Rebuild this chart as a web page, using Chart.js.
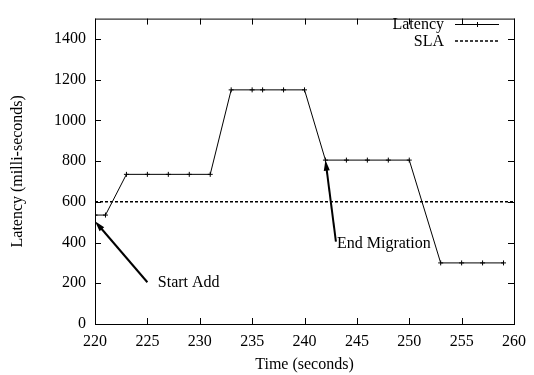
<!DOCTYPE html>
<html>
<head>
<meta charset="utf-8">
<script src="https://cdn.jsdelivr.net/npm/chart.js@4/dist/chart.umd.min.js"></script>
<style>
  html, body { margin: 0; padding: 0; background: #fff; }
  #wrap { width: 534px; height: 375px; }
</style>
</head>
<body>
<div id="wrap"><canvas id="latencyChart" width="534" height="375"></canvas></div>
<script>
/* =========================
   DATA
========================= */
const times = [220, 221, 223, 225, 227, 229, 231, 233, 235, 236, 238, 240, 242, 244, 246, 248, 250, 253, 255, 257, 259];
const latency = [535, 535, 735, 735, 735, 735, 735, 1150, 1150, 1150, 1150, 1150, 805, 805, 805, 805, 805, 300, 300, 300, 300];

const slaTimes = [220, 260];
const slaLatency = [600, 600];

const xTicks = [220, 225, 230, 235, 240, 245, 250, 255, 260];
const yTicks = [0, 200, 400, 600, 800, 1000, 1200, 1400];

// annotations: label text, label anchor, arrow tail -> head (data units)
const noteText = ["Start Add", "End Migration"];
const noteLabelX = [226, 243.1];
const noteLabelY = [200, 393];
const noteTailX = [225, 243];
const noteTailY = [205, 405];
const noteHeadX = [220, 242];
const noteHeadY = [505, 805];

const FONT = "16px 'Liberation Serif', 'Times New Roman', serif";

/* =========================
   FRAME + TICKS + LABELS
========================= */
const gnuplotFrame = {
  id: "gnuplotFrame",
  afterDatasetsDraw(chart) {
    const { ctx, chartArea: a, scales: { x, y } } = chart;
    ctx.save();
    ctx.strokeStyle = "#000";
    ctx.lineWidth = 1;

    // border box
    ctx.strokeRect(a.left + 0.5, a.top + 0.5, a.right - a.left, a.bottom - a.top);

    // inward ticks on all four sides
    const len = 6;
    ctx.beginPath();
    xTicks.forEach(v => {
      const px = Math.round(x.getPixelForValue(v)) + 0.5;
      ctx.moveTo(px, a.bottom); ctx.lineTo(px, a.bottom - len);
      ctx.moveTo(px, a.top); ctx.lineTo(px, a.top + len);
    });
    yTicks.forEach(v => {
      const py = Math.round(y.getPixelForValue(v)) + 0.5;
      ctx.moveTo(a.left, py); ctx.lineTo(a.left + len, py);
      ctx.moveTo(a.right, py); ctx.lineTo(a.right - len, py);
    });
    ctx.stroke();

    // arrows
    ctx.lineWidth = 2;
    ctx.fillStyle = "#000";
    noteText.forEach((t, i) => {
      const x0 = x.getPixelForValue(noteTailX[i]), y0 = y.getPixelForValue(noteTailY[i]);
      const x1 = x.getPixelForValue(noteHeadX[i]), y1 = y.getPixelForValue(noteHeadY[i]);
      const ang = Math.atan2(y1 - y0, x1 - x0);
      const hl = 11, hw = 0.28;
      ctx.beginPath();
      ctx.moveTo(x0, y0);
      ctx.lineTo(x1 - Math.cos(ang) * 6, y1 - Math.sin(ang) * 6);
      ctx.stroke();
      ctx.beginPath();
      ctx.moveTo(x1, y1);
      ctx.lineTo(x1 - hl * Math.cos(ang - hw), y1 - hl * Math.sin(ang - hw));
      ctx.lineTo(x1 - hl * Math.cos(ang + hw), y1 - hl * Math.sin(ang + hw));
      ctx.closePath();
      ctx.fill();

      ctx.font = FONT;
      ctx.textAlign = "left";
      ctx.textBaseline = "middle";
      ctx.fillText(t, x.getPixelForValue(noteLabelX[i]), y.getPixelForValue(noteLabelY[i]));
    });

    // legend (top right)
    ctx.font = FONT;
    ctx.textAlign = "right";
    ctx.textBaseline = "middle";
    ctx.lineWidth = 1;
    const lx0 = 455, lx1 = 499, tx = 444;
    ctx.fillText("Latency", tx, 25);
    ctx.beginPath();
    ctx.moveTo(lx0, 24.5); ctx.lineTo(lx1, 24.5);
    const mx = (lx0 + lx1) / 2;
    ctx.moveTo(mx + 0.5, 22); ctx.lineTo(mx + 0.5, 27);
    ctx.stroke();

    ctx.fillText("SLA", tx, 42);
    ctx.setLineDash([3, 2]);
    ctx.lineWidth = 1.5;
    ctx.beginPath();
    ctx.moveTo(lx0, 41); ctx.lineTo(lx1, 41);
    ctx.stroke();
    ctx.setLineDash([]);

    // axis titles
    ctx.textAlign = "center";
    ctx.fillText("Time (seconds)", (a.left + a.right) / 2, 365);
    ctx.translate(18, (a.top + a.bottom) / 2);
    ctx.rotate(-Math.PI / 2);
    ctx.fillText("Latency (milli-seconds)", 0, 0);
    ctx.restore();
  }
};

/* =========================
   CHART
========================= */
new Chart(document.getElementById("latencyChart"), {
  type: "line",
  data: {
    datasets: [
      {
        label: "Latency",
        data: times.map((t, i) => ({ x: t, y: latency[i] })),
        borderColor: "#000",
        backgroundColor: "#000",
        borderWidth: 1,
        tension: 0,
        pointStyle: "cross",
        pointRadius: 2.5,
        pointBorderWidth: 1,
        pointBorderColor: "#000"
      },
      {
        label: "SLA",
        data: slaTimes.map((t, i) => ({ x: t, y: slaLatency[i] })),
        borderColor: "#000",
        borderWidth: 1.5,
        borderDash: [3, 2],
        pointRadius: 0
      }
    ]
  },
  options: {
    responsive: false,
    animation: false,
    layout: { padding: { left: 0, right: 15, top: 10, bottom: 0 } },
    plugins: { legend: { display: false }, tooltip: { enabled: false } },
    scales: {
      x: {
        type: "linear",
        min: 220,
        max: 260,
        afterBuildTicks: s => { s.ticks = xTicks.map(v => ({ value: v })); },
        afterFit: s => { s.height = 51; },
        grid: { display: false, drawTicks: false },
        border: { display: false },
        ticks: {
          color: "#000",
          font: { family: "'Liberation Serif', serif", size: 16 },
          padding: 8,
          maxRotation: 0,
          callback: v => String(v)
        }
      },
      y: {
        min: 0,
        max: 1500,
        afterBuildTicks: s => { s.ticks = yTicks.map(v => ({ value: v })); },
        afterFit: s => { s.width = 95; },
        grid: { display: false, drawTicks: false },
        border: { display: false },
        ticks: {
          color: "#000",
          font: { family: "'Liberation Serif', serif", size: 16 },
          padding: 9,
          callback: v => String(v)
        }
      }
    }
  },
  plugins: [gnuplotFrame]
});
</script>
</body>
</html>
